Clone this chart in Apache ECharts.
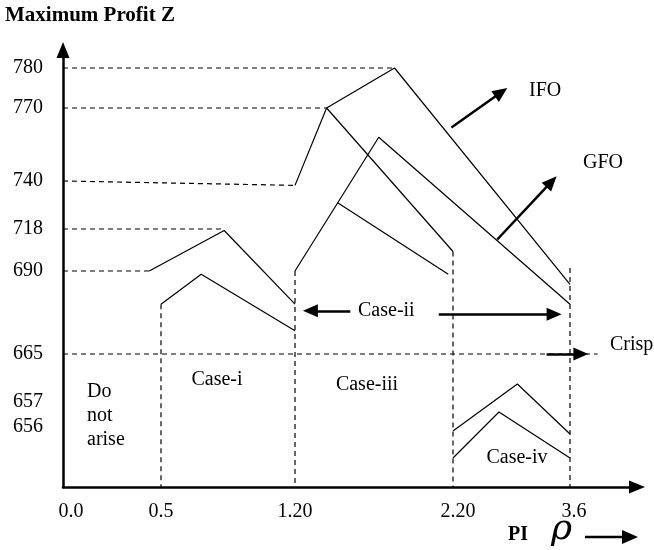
<!DOCTYPE html>
<html><head><meta charset="utf-8">
<script src="https://cdn.jsdelivr.net/npm/echarts@6/dist/echarts.min.js"></script>
<style>html,body{margin:0;padding:0;background:#fff}#c{width:654px;height:550px}</style>
</head><body><div id="c"></div>
<script>
// ---- Tick labels (schematic, non-uniform axes) ----
const xTickValues = [0.0, 0.5, 1.2, 2.2, 3.6];
const xTickLabels = ['0.0', '0.5', '1.20', '2.20', '3.6'];
const yTickValues = [656, 657, 665, 690, 718, 740, 770, 780];
const yTickLabels = ['656', '657', '665', '690', '718', '740', '770', '780'];

// ---- Curves: [rho, Z] ----
const ifoUpper   = [[1.2, 738], [1.40, 770], [1.83, 780], [3.6, 686]];
const ifoLower   = [[1.40, 770], [2.2, 703]];
const gfoUpper   = [[1.2, 690], [1.73, 758], [3.6, 680]];
const gfoBranch  = [[1.47, 730], [2.17, 689]];
const case1Upper = [[0.44, 690], [0.83, 717], [1.2, 680]];
const case1Lower = [[0.5, 680], [0.71, 689], [1.2, 672]];
const case4Upper = [[2.2, 655.6], [2.97, 660], [3.6, 655.3]];
const case4Lower = [[2.2, 652.9], [2.75, 656.6], [3.6, 652.9]];

// ---- Dashed guide lines: [rho, Z] ----
const guide780 = [[0, 780], [1.83, 780]];
const guide770 = [[0, 770], [1.40, 770]];
const guide740 = [[0, 740], [1.2, 738]];
const guide718 = [[0, 718], [0.82, 718]];
const guide690 = [[0, 690], [0.44, 690]];
const guide665 = [[0, 665], [3.93, 665]];
const guideV05 = [[0.5, 680], [0.5, 650]];
const guideV12 = [[1.2, 690], [1.2, 650]];
const guideV22 = [[2.2, 703], [2.2, 650]];
const guideV36 = [[3.6, 692], [3.6, 650]];

// ---- Annotation arrows: [tail, tip] in [rho, Z] ----
const arrowIFO    = [[2.19, 762], [2.85, 775]];
const arrowGFO    = [[2.73, 711], [3.44, 742]];
const arrowCase2L = [[1.55, 678], [1.25, 678]];
const arrowCase2R = [[2.11, 677], [3.50, 677]];
const arrowCrisp  = [[3.32, 665], [3.82, 665]];

// ---- Piecewise-linear schematic scales (axis units = px along the axis) ----
const xKnotsVal = [0, 0.5, 1.2, 2.2, 3.6];
const xKnotsPos = [0, 98, 232, 390, 507];
const yKnotsVal = [650, 656, 657, 665, 690, 718, 740, 770, 780];
const yKnotsPos = [0, 60, 85, 133, 216, 258, 306, 379, 419];
function piece(v, kv, kp) {
  let i = 0;
  while (i < kv.length - 2 && v > kv[i + 1]) i++;
  return kp[i] + (v - kv[i]) * (kp[i + 1] - kp[i]) / (kv[i + 1] - kv[i]);
}
const fx = v => piece(v, xKnotsVal, xKnotsPos);
const fy = v => piece(v, yKnotsVal, yKnotsPos);
const map = arr => arr.map(([r, z]) => [fx(r), fy(z)]);

const FONT = 'Liberation Serif';
const solid = (name, d) => ({
  type: 'line', name, data: map(d), symbol: 'none', silent: true,
  lineStyle: { color: '#000', width: 1.2 }
});
const dashed = (d) => ({
  type: 'line', data: map(d), symbol: 'none', silent: true,
  lineStyle: { color: '#000', width: 1.2, type: [5, 4] }
});
const arrows = [arrowIFO, arrowGFO, arrowCase2L, arrowCase2R, arrowCrisp];
const HEAD = 15;
// arrowhead symbol is centred on the line end: end the shaft half a head short of the tip
const arrowSegments = arrows.map(a => {
  const [p, q] = map(a);
  const dx = q[0] - p[0], dy = q[1] - p[1], L = Math.hypot(dx, dy);
  const k = (L - HEAD / 2) / L;
  return [{ coord: p }, { coord: [p[0] + dx * k, p[1] + dy * k] }];
});

const chart = echarts.init(document.getElementById('c'), null, { renderer: 'canvas' });
const xLabelShift = { '0.0': 8, '2.20': 5, '3.6': 4 };
chart.setOption({
  animation: false,
  backgroundColor: '#fff',
  grid: { left: 63, top: 50, width: 574, height: 437 },
  xAxis: {
    type: 'value', min: 0, max: 574,
    splitLine: { show: false }, axisTick: { show: false },
    axisLine: { lineStyle: { color: '#000', width: 2.5 }, symbol: ['none', 'triangle'], symbolSize: [13, 16] },
    axisLabel: {
      customValues: xTickValues.map(fx), margin: 15, color: '#000',
      fontFamily: FONT, fontSize: 20,
      formatter: v => {
        const i = xTickValues.findIndex(t => Math.abs(fx(t) - v) < 0.5);
        const lab = xTickLabels[i];
        const s = xLabelShift[lab] || 0;
        return s ? '{p' + s + '|' + lab + '}' : lab;
      },
      rich: {
        p8: { padding: [0, 0, 0, 16], fontFamily: FONT, fontSize: 20, color: '#000' },
        p5: { padding: [0, 0, 0, 10], fontFamily: FONT, fontSize: 20, color: '#000' },
        p4: { padding: [0, 0, 0, 8], fontFamily: FONT, fontSize: 20, color: '#000' }
      }
    }
  },
  yAxis: {
    type: 'value', min: 0, max: 437,
    splitLine: { show: false }, axisTick: { show: false },
    axisLine: { lineStyle: { color: '#000', width: 2.5 }, symbol: ['none', 'triangle'], symbolSize: [13, 16] },
    axisLabel: {
      customValues: yTickValues.map(fy), margin: 20, color: '#000',
      fontFamily: FONT, fontSize: 20,
      formatter: v => {
        const i = yTickValues.findIndex(t => Math.abs(fy(t) - v) < 0.5);
        return yTickLabels[i];
      }
    }
  },
  series: [
    dashed(guide780), dashed(guide770), dashed(guide740), dashed(guide718),
    dashed(guide690), dashed(guide665), dashed(guideV05), dashed(guideV12),
    dashed(guideV22), dashed(guideV36),
    solid('IFO', ifoUpper), solid('IFO', ifoLower),
    solid('GFO', gfoUpper), solid('GFO', gfoBranch),
    solid('Case-i', case1Upper), solid('Case-i', case1Lower),
    solid('Case-iv', case4Upper), solid('Case-iv', case4Lower),
    {
      type: 'line', data: [], silent: true,
      markLine: {
        silent: true, symbol: ['none', 'triangle'], symbolSize: [13, HEAD],
        label: { show: false },
        lineStyle: { color: '#000', width: 2.5, type: 'solid' },
        data: arrowSegments
      }
    }
  ],
  graphic: [
    { type: 'text', left: 5, top: 5, style: { text: 'Maximum Profit Z', font: 'bold 21px "Liberation Serif"', fill: '#000' } },
    { type: 'text', x: 529, y: 91, style: { text: 'IFO', font: '20px "Liberation Serif"', fill: '#000', verticalAlign: 'middle' } },
    { type: 'text', x: 583, y: 163, style: { text: 'GFO', font: '20px "Liberation Serif"', fill: '#000', verticalAlign: 'middle' } },
    { type: 'text', x: 358, y: 311, style: { text: 'Case-ii', font: '20px "Liberation Serif"', fill: '#000', verticalAlign: 'middle' } },
    { type: 'text', x: 610, y: 345, style: { text: 'Crisp', font: '20px "Liberation Serif"', fill: '#000', verticalAlign: 'middle' } },
    { type: 'text', x: 217, y: 380, style: { text: 'Case-i', font: '20px "Liberation Serif"', fill: '#000', align: 'center', verticalAlign: 'middle' } },
    { type: 'text', x: 367, y: 385, style: { text: 'Case-iii', font: '20px "Liberation Serif"', fill: '#000', align: 'center', verticalAlign: 'middle' } },
    { type: 'text', x: 517, y: 458, style: { text: 'Case-iv', font: '20px "Liberation Serif"', fill: '#000', align: 'center', verticalAlign: 'middle' } },
    { type: 'text', x: 87, y: 392, style: { text: 'Do', font: '20px "Liberation Serif"', fill: '#000', verticalAlign: 'middle' } },
    { type: 'text', x: 87, y: 416, style: { text: 'not', font: '20px "Liberation Serif"', fill: '#000', verticalAlign: 'middle' } },
    { type: 'text', x: 87, y: 440, style: { text: 'arise', font: '20px "Liberation Serif"', fill: '#000', verticalAlign: 'middle' } },
    { type: 'text', x: 508, y: 535, style: { text: 'PI', font: 'bold 20px "Liberation Serif"', fill: '#000', verticalAlign: 'middle' } },
    { type: 'text', x: 551, y: 530, style: { text: 'ρ', font: 'italic 36px "DejaVu Serif"', fill: '#000', verticalAlign: 'middle' } },
    { type: 'line', shape: { x1: 585, y1: 537, x2: 624, y2: 537 }, style: { stroke: '#000', lineWidth: 2.5 } },
    { type: 'polygon', shape: { points: [[622, 530], [638, 537], [622, 544]] }, style: { fill: '#000' } }
  ]
});
</script>
</body></html>
